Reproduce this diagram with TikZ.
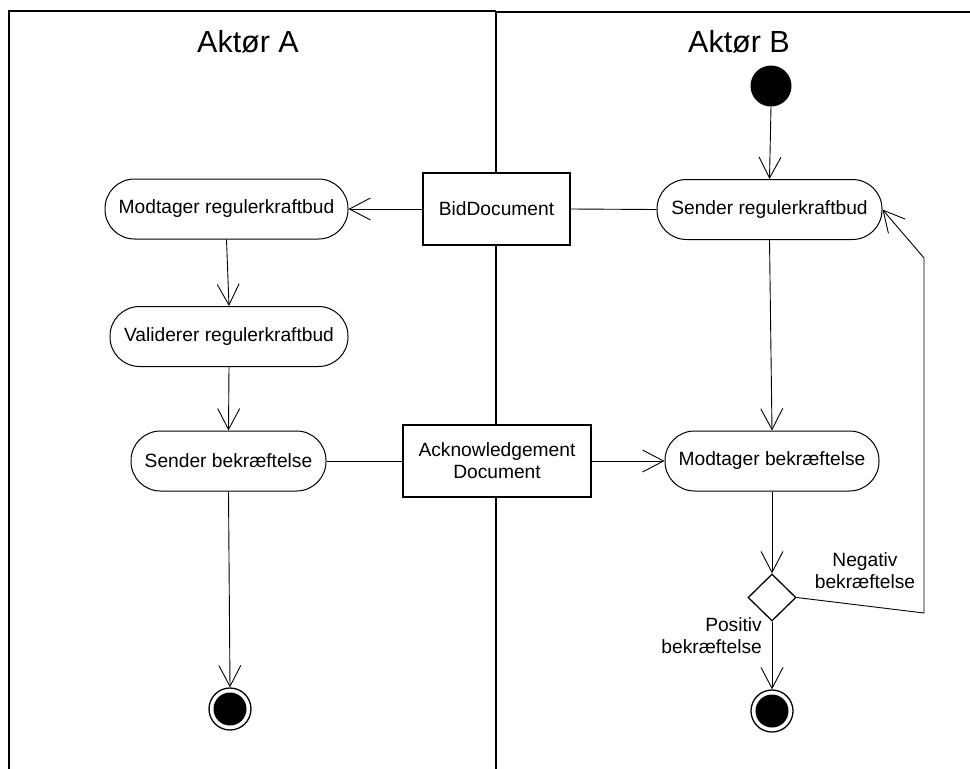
\documentclass[tikz,border=0pt]{standalone}
\usepackage{fontspec}
\setmainfont{Liberation Sans}
\usetikzlibrary{arrows.meta,shapes.geometric}
\begin{document}
\begin{tikzpicture}[x=1pt,y=-1pt,
  txt/.style={font=\fontsize{19.2}{22}\selectfont},
  action/.style={txt,draw,fill=white,line width=1pt,rounded corners=29.5pt,
    minimum height=60pt,inner sep=0pt},
  objbox/.style={txt,draw,fill=white,line width=1.3pt,inner sep=0pt,align=center},
  lane/.style={line width=1.3pt},
  flow/.style={line width=0.9pt,-{Straight Barb[length=21pt,width=22pt,line width=0.9pt]}},
  link/.style={line width=0.9pt},
  startnode/.style={circle,fill=black,minimum size=41pt,inner sep=0pt},
  endnode/.style={circle,draw,line width=1.3pt,fill=white,minimum size=42pt,inner sep=0pt,
    path picture={\fill[black] (path picture bounding box.center) circle (16.5pt);}},
  choice/.style={diamond,draw,fill=white,line width=1.3pt,minimum width=48pt,minimum height=47pt,inner sep=0pt},
  lbl/.style={txt,inner sep=0pt}]
\useasboundingbox (0,0) rectangle (970,769);

% swimlanes
\draw[lane] (9,769) -- (9,11) -- (496,11);
\draw[lane] (496,12) -- (970,12);
\draw[lane] (496,11) -- (496,769);
\node[font=\fontsize{30.5}{34}\selectfont,anchor=base] (titleA) at (248,52) {Aktør A};
\node[font=\fontsize{30.5}{34}\selectfont,anchor=base] (titleB) at (739,52) {Aktør B};

% actor A
\node[action,minimum width=243pt] (recvbid) at (226.5,209) {Modtager regulerkraftbud};
\node[action,minimum width=238pt] (validate) at (229,336.5) {Validerer regulerkraftbud};
\node[action,minimum width=195pt] (sendack) at (228.5,461) {Sender bekræftelse};
\node[endnode] (endA) at (230,709) {};

% object flows
\node[objbox,minimum width=147pt,minimum height=72pt] (bid) at (496.5,209) {BidDocument};
\node[objbox,minimum width=188pt,minimum height=72pt] (ack) at (497,461) {Acknowledgement\\Document};

% actor B
\node[startnode] (start) at (771,86) {};
\node[action,minimum width=225pt] (sendbid) at (769.5,209.5) {Sender regulerkraftbud};
\node[action,minimum width=214pt] (recvack) at (772,461) {Modtager bekræftelse};
\node[choice] (check) at (772,597.5) {};
\node[endnode] (endB) at (772,711) {};
\coordinate (loopA) at (924,613);
\coordinate (loopB) at (924,258);

% flows in lane A
\draw[flow] (bid.west) -- (recvbid.east);
\draw[flow] (recvbid.south) -- (validate.north);
\draw[flow] (validate.south) -- (sendack.north);
\draw[flow] (sendack.south) -- (endA.north);
\draw[link] (sendack.east) -- (ack.west);

% flows in lane B
\draw[link] (sendbid.west) -- (bid.east);
\draw[flow] (ack.east) -- (recvack.west);
\draw[flow] (start.south) -- (sendbid.north);
\draw[flow] (sendbid.south) -- (recvack.north);
\draw[flow] (recvack.south) -- (check.north);
\draw[flow] (check.south) -- (endB.north);
\draw[flow] (check.east) -- (loopA) -- (loopB) -- (sendbid.east);

\node[lbl,align=center] (neg) at (865,571) {Negativ\\bekræftelse};
\node[lbl,align=right,anchor=east] (pos) at (762,636) {Positiv\\bekræftelse};
\end{tikzpicture}
\end{document}
